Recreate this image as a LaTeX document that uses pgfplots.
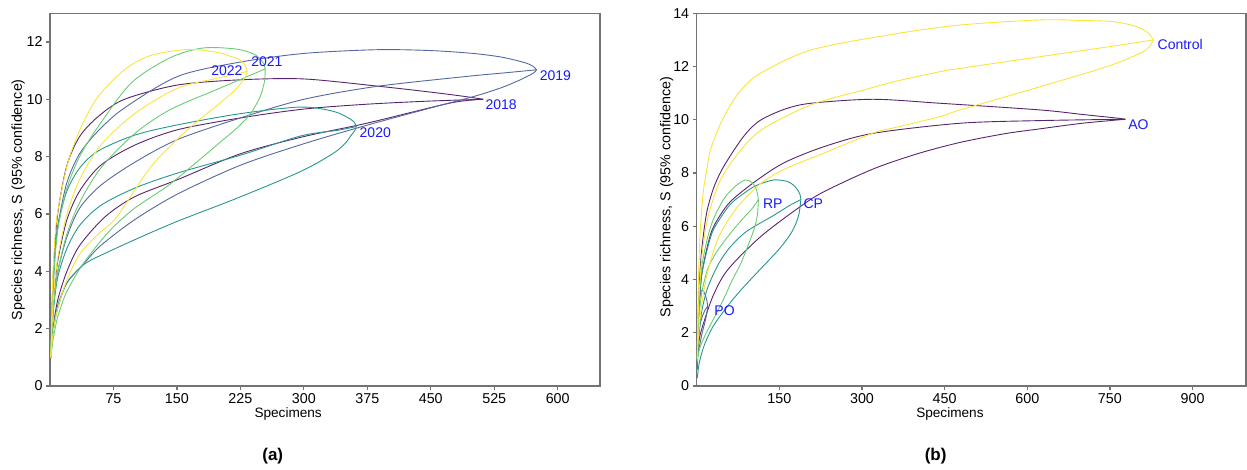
\documentclass[border=0pt]{standalone}
\usepackage{pgfplots}
\pgfplotsset{compat=1.18}
\usepackage{fontspec}
\setmainfont{Liberation Sans}
\definecolor{vpur}{RGB}{88,36,110}
\definecolor{vsla}{RGB}{85,105,160}
\definecolor{vtea}{RGB}{40,150,145}
\definecolor{vgre}{RGB}{105,205,115}
\definecolor{vyel}{RGB}{250,228,60}
\definecolor{lblue}{RGB}{25,25,250}
\definecolor{axgray}{RGB}{115,115,115}
\tikzset{
  lbl/.style={text=lblue, font=\fontsize{14}{16}\selectfont, inner sep=0pt, anchor=center},
  pl/.style={font=\fontsize{17}{20}\selectfont\bfseries, inner sep=0pt, anchor=center},
}
\pgfplotsset{
  panel/.style={
    scale only axis, anchor=south west,
    axis line style={axgray, line width=1.4pt},
    tick style={axgray, line width=1.2pt},
    major tick length=4pt, tick align=outside, tick pos=left,
    /pgf/number format/assume math mode=true,
    ticklabel style={font=\fontsize{14.3}{16}\selectfont},
    xlabel style={font=\fontsize{13.6}{16}\selectfont},
    ylabel style={font=\fontsize{14.3}{16}\selectfont},
    clip mode=individual,
    ylabel={Species richness, S (95\% confidence)},
    xlabel={Specimens},
  },
  cu/.style={smooth, line width=0.9pt, mark=none},
}
\begin{document}
\begin{tikzpicture}
\useasboundingbox (0,0) rectangle (1247pt,469pt);
% ---------------- panel (a) ----------------
\begin{axis}[panel, at={(50pt,83pt)}, width=550pt, height=372.7pt,
  xmin=0, xmax=650, ymin=0, ymax=13,
  xtick={75,150,225,300,375,450,525,600}, ytick={0,2,4,6,8,10,12},
  ylabel style={at={(axis description cs:-0.058,0.5)}, anchor=center},
  xlabel style={at={(axis description cs:0.433,-0.075)}, anchor=center}]
% 2018
\addplot[cu, vpur] coordinates {(1,1) (3,3.3) (6,5.0) (10,6.2) (20,7.7) (35,8.7) (57,9.4) (88,10.0) (151,10.5) (225,10.68) (300,10.71) (390,10.45) (450,10.25) (490,10.1) (512,10.0)};
\addplot[cu, vpur] coordinates {(1,1) (3,2.5) (6,3.6) (10,4.5) (20,5.8) (35,6.8) (60,7.7) (100,8.4) (151,8.94) (225,9.35) (300,9.66) (375,9.83) (450,9.94) (512,10.0)};
\addplot[cu, vpur] coordinates {(1,1) (3,1.8) (6,2.5) (10,3.1) (20,4.0) (35,4.9) (65,5.9) (100,6.6) (151,7.2) (225,8.1) (300,8.7) (375,9.17) (473,9.87) (512,10.0)};
% 2019
\addplot[cu, vsla] coordinates {(1,1) (3,3.0) (6,4.6) (10,5.7) (20,7.1) (35,8.1) (57,8.9) (88,9.7) (151,10.8) (225,11.3) (300,11.6) (386,11.73) (450,11.7) (500,11.6) (532,11.48) (552,11.35) (564,11.25) (571,11.15) (575,11.03)};
\addplot[cu, vsla] coordinates {(1,1) (3,2.3) (6,3.3) (10,4.1) (20,5.2) (35,6.2) (60,7.0) (100,7.8) (151,8.6) (225,9.35) (300,10.0) (386,10.45) (493,10.8) (540,10.93) (575,11.03)};
\addplot[cu, vsla] coordinates {(1,1) (3,1.7) (6,2.3) (10,2.8) (20,3.6) (41,4.3) (60,4.9) (100,5.8) (151,6.7) (225,7.7) (300,8.45) (375,9.1) (450,9.7) (501,10.1) (532,10.39) (552,10.63) (564,10.8) (572,10.93) (575,11.03)};
% 2020
\addplot[cu, vtea] coordinates {(1,1) (3,3.2) (6,4.7) (10,5.7) (20,6.8) (35,7.6) (57,8.2) (100,8.75) (151,9.11) (225,9.5) (296,9.73) (335,9.58) (355,9.31) (360,9.18) (362,9.05)};
\addplot[cu, vtea] coordinates {(1,1) (3,2.3) (6,3.2) (10,3.9) (20,4.8) (35,5.6) (60,6.3) (100,6.9) (151,7.43) (225,8.05) (296,8.72) (340,8.92) (362,9.05)};
\addplot[cu, vtea] coordinates {(1,1) (3,1.8) (6,2.4) (10,2.9) (20,3.6) (35,4.1) (49,4.4) (100,5.1) (151,5.75) (221,6.55) (296,7.48) (335,8.12) (350,8.5) (355,8.71) (360,8.9) (362,9.05)};
% 2021
\addplot[cu, vgre] coordinates {(1,1) (3,3.0) (6,4.5) (10,5.6) (20,6.9) (35,8.0) (57,9.05) (96,10.57) (142,11.45) (181,11.79) (221,11.75) (242,11.56) (250,11.35) (253,11.2) (254.3,11.06)};
\addplot[cu, vgre] coordinates {(1,1) (3,2.3) (6,3.3) (10,4.1) (20,5.3) (35,6.4) (60,7.6) (100,8.8) (142,9.64) (201,10.39) (254.3,11.06)};
\addplot[cu, vgre] coordinates {(1,1) (3,1.5) (6,2.0) (10,2.5) (20,3.3) (40,4.3) (70,5.4) (100,6.2) (140,7.0) (177,7.9) (201,8.5) (221,9.0) (237,9.5) (248.5,10.1) (253.6,10.65) (254.3,11.06)};
% 2022
\addplot[cu, vyel] coordinates {(1,1) (3,3.6) (6,5.2) (9.5,6.15) (21,7.78) (37,9.05) (57,10.1) (88,11.03) (116,11.5) (151,11.71) (174,11.73) (200,11.62) (221,11.42) (227,11.32) (231,11.15) (233,10.97)};
\addplot[cu, vyel] coordinates {(1,1) (3,2.6) (6,3.7) (10,4.6) (20,6.0) (35,7.2) (60,8.4) (100,9.5) (151,10.39) (200,10.75) (233,10.97)};
\addplot[cu, vyel] coordinates {(1,1) (3,1.7) (6,2.3) (10,2.8) (20,3.7) (35,4.6) (57,5.3) (79,5.9) (118,7.6) (150,8.6) (177,9.3) (201,9.87) (221,10.39) (231,10.8) (233,10.97)};
\node[lbl] at (axis cs:209,11.0) {2022};
\node[lbl] at (axis cs:256.4,11.3) {2021};
\node[lbl] at (axis cs:597.2,10.83) {2019};
\node[lbl] at (axis cs:533.2,9.82) {2018};
\node[lbl] at (axis cs:384.4,8.82) {2020};
\node[pl] at (axis description cs:0.405,-0.188) {(a)};
\end{axis}
% ---------------- panel (b) ----------------
\begin{axis}[panel, at={(696.7pt,83pt)}, width=549.3pt, height=372.7pt,
  xmin=0, xmax=997, ymin=0, ymax=14,
  xtick={150,300,450,600,750,900}, ytick={0,2,4,6,8,10,12,14},
  ylabel style={at={(axis description cs:-0.0546,0.507)}, anchor=center},
  xlabel style={at={(axis description cs:0.461,-0.075)}, anchor=center}]
% AO
\addplot[cu, vpur] coordinates {(1,1) (3,3.0) (6,4.3) (10,5.3) (18,6.5) (30,7.4) (45,8.1) (68,8.87) (90,9.5) (116,9.99) (160,10.4) (207,10.62) (320,10.77) (442,10.62) (623,10.37) (700,10.2) (760,10.07) (778,10.02)};
\addplot[cu, vpur] coordinates {(1,1) (3,2.5) (6,3.5) (10,4.3) (20,5.3) (31,6.0) (60,6.9) (110,7.74) (160,8.4) (231,8.99) (320,9.49) (478,9.87) (623,9.97) (778,10.02)};
\addplot[cu, vpur] coordinates {(1,1) (3,1.5) (6,1.9) (13,2.4) (30,3.4) (56,4.36) (116,5.61) (188,6.74) (231,7.3) (320,8.15) (400,8.72) (478,9.15) (560,9.48) (623,9.66) (700,9.87) (778,10.02)};
% PO
\addplot[cu, vsla] coordinates {(1,1) (2,2.2) (4,3.0) (7,3.5) (10,3.6) (14,3.5) (18,3.25) (20,3.0)};
\addplot[cu, vsla] coordinates {(1,1) (3,1.8) (6,2.3) (10,2.6) (15,2.85) (20,3.0)};
\addplot[cu, vsla] coordinates {(1,1) (3,1.3) (6,1.6) (10,2.0) (15,2.4) (18,2.7) (20,3.0)};
% CP
\addplot[cu, vtea] coordinates {(1,0.8) (3,2.6) (6,3.6) (10,4.3) (20,5.2) (31,5.9) (60,6.8) (90,7.3) (110,7.55) (140,7.74) (165,7.68) (178,7.5) (185,7.3) (188,7.15) (189,7.0)};
\addplot[cu, vtea] coordinates {(1,0.6) (3,1.6) (6,2.3) (10,2.9) (20,3.7) (40,4.6) (60,5.2) (90,5.8) (139,6.4) (170,6.8) (189,7.0)};
\addplot[cu, vtea] coordinates {(1,0.3) (4,0.8) (8,1.15) (15,1.6) (30,2.25) (56,3.0) (80,3.6) (116,4.4) (150,5.15) (170,5.7) (180,6.1) (186,6.5) (189,7.0)};
% RP
\addplot[cu, vgre] coordinates {(1,1) (3,2.8) (6,3.8) (10,4.6) (20,5.6) (31,6.3) (50,7.05) (70,7.5) (88,7.74) (100,7.65) (107,7.45) (110.5,7.2) (112,7.0)};
\addplot[cu, vgre] coordinates {(1,1) (3,2.2) (6,3.0) (10,3.6) (20,4.4) (35,5.0) (56,5.6) (80,6.2) (100,6.65) (112,7.0)};
\addplot[cu, vgre] coordinates {(1,0.9) (3,1.2) (6,1.45) (15,1.9) (30,2.5) (48,3.23) (65,4.0) (80,4.6) (97,5.48) (105,5.95) (110,6.4) (112,7.0)};
% Control
\addplot[cu, vyel] coordinates {(1,1) (2,2.8) (4,4.6) (7,6.0) (12,7.3) (18,8.1) (25,8.87) (40,9.7) (56,10.37) (80,11.1) (116,11.75) (207,12.62) (358,13.22) (478,13.56) (623,13.75) (700,13.73) (756,13.69) (790,13.55) (805,13.44) (820,13.25) (829,13.0)};
\addplot[cu, vyel] coordinates {(1,1) (3,2.8) (6,4.0) (10,5.0) (20,6.3) (40,7.6) (70,8.6) (116,9.6) (207,10.56) (300,11.1) (358,11.43) (442,11.81) (478,11.93) (623,12.37) (750,12.75) (829,13.0)};
\addplot[cu, vyel] coordinates {(1,1) (3,1.8) (6,2.5) (10,3.2) (20,4.3) (40,5.6) (73,6.7) (116,7.6) (160,8.15) (231,8.75) (320,9.5) (358,9.7) (442,10.12) (478,10.37) (623,11.24) (745,12.0) (805,12.5) (822,12.75) (829,13.0)};
\node[lbl] at (axis cs:877.6,12.84) {Control};
\node[lbl] at (axis cs:801.9,9.80) {AO};
\node[lbl] at (axis cs:138,6.83) {RP};
\node[lbl] at (axis cs:211.7,6.83) {CP};
\node[lbl] at (axis cs:50.5,2.82) {PO};
\node[pl] at (axis description cs:0.435,-0.188) {(b)};
\end{axis}
\end{tikzpicture}
\end{document}
